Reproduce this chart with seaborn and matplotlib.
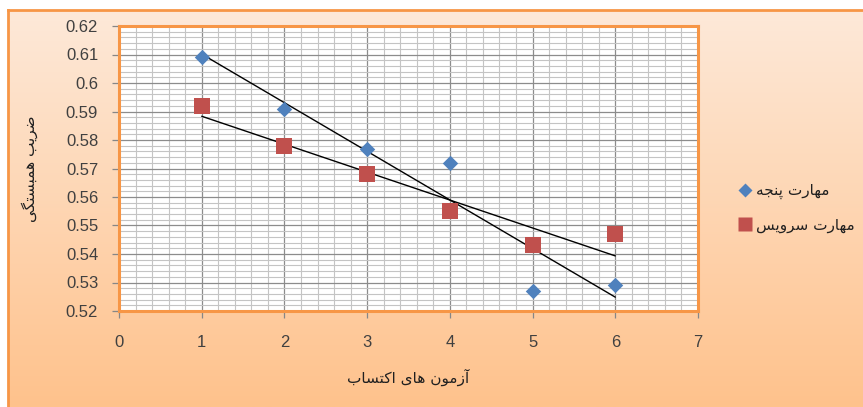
import numpy as np
import pandas as pd
import matplotlib
matplotlib.use("Agg")
import matplotlib.pyplot as plt
import seaborn as sns
from matplotlib.ticker import MultipleLocator, FuncFormatter
from matplotlib.lines import Line2D

# --- data -------------------------------------------------------------
tests = [1, 2, 3, 4, 5, 6]
grip_corr = [0.609, 0.591, 0.577, 0.572, 0.527, 0.529]
serve_corr = [0.592, 0.578, 0.568, 0.555, 0.543, 0.547]
grip_name = "مهارت پنجه"
serve_name = "مهارت سرویس"
x_title = "آزمون های اکتساب"
y_title = "ضریب همبستگی"
x_ticks = [0, 1, 2, 3, 4, 5, 6, 7]
y_ticks = [0.52, 0.53, 0.54, 0.55, 0.56, 0.57, 0.58, 0.59, 0.60, 0.61, 0.62]

# --- minimal Persian shaping (presentation forms + visual order) -------
FORMS = {
    "ا": ("\uFE8D", "\uFE8E", None, None),
    "آ": ("\uFE81", "\uFE82", None, None),
    "ب": ("\uFE8F", "\uFE90", "\uFE91", "\uFE92"),
    "پ": ("\uFB56", "\uFB57", "\uFB58", "\uFB59"),
    "ت": ("\uFE95", "\uFE96", "\uFE97", "\uFE98"),
    "ج": ("\uFE9D", "\uFE9E", "\uFE9F", "\uFEA0"),
    "ر": ("\uFEAD", "\uFEAE", None, None),
    "ز": ("\uFEAF", "\uFEB0", None, None),
    "س": ("\uFEB1", "\uFEB2", "\uFEB3", "\uFEB4"),
    "ض": ("\uFEBD", "\uFEBE", "\uFEBF", "\uFEC0"),
    "ک": ("\uFB8E", "\uFB8F", "\uFB90", "\uFB91"),
    "گ": ("\uFB92", "\uFB93", "\uFB94", "\uFB95"),
    "م": ("\uFEE1", "\uFEE2", "\uFEE3", "\uFEE4"),
    "ن": ("\uFEE5", "\uFEE6", "\uFEE7", "\uFEE8"),
    "ه": ("\uFEE9", "\uFEEA", "\uFEEB", "\uFEEC"),
    "و": ("\uFEED", "\uFEEE", None, None),
    "ی": ("\uFBFC", "\uFBFD", "\uFBFE", "\uFBFF"),
}


def fa(text):
    chars = list(text)
    out = []
    for i, c in enumerate(chars):
        if c not in FORMS:
            out.append(c)
            continue
        prev = chars[i - 1] if i > 0 else None
        nxt = chars[i + 1] if i + 1 < len(chars) else None
        join_prev = prev in FORMS and FORMS[prev][2] is not None
        join_next = FORMS[c][2] is not None and nxt in FORMS
        iso, fin, ini, med = FORMS[c]
        if join_prev and join_next:
            out.append(med)
        elif join_prev:
            out.append(fin)
        elif join_next:
            out.append(ini)
        else:
            out.append(iso)
    return "".join(reversed(out))


df = pd.DataFrame({
    "test": tests * 2,
    "corr": grip_corr + serve_corr,
    "skill": [grip_name] * len(tests) + [serve_name] * len(tests),
})

BLUE = "#4F81BD"
RED = "#C0504D"
ORANGE = "#F79646"
TXT = "#404040"

sns.set_style("white")
plt.rcParams["font.family"] = ["Liberation Sans", "DejaVu Sans"]

W, H = 863, 407
fig = plt.figure(figsize=(W / 100, H / 100), dpi=100)
fig.patch.set_facecolor("white")

# chart area: peach gradient with orange frame
bg = fig.add_axes([8 / W, 0, 1 - 8 / W, 1 - 10 / H], zorder=0)
top_c = np.array([253, 233, 217]) / 255
bot_c = np.array([255, 194, 140]) / 255
t = np.linspace(0, 1, 256)[:, None]
grad = (top_c[None, :] * (1 - t) + bot_c[None, :] * t)[:, None, :]
bg.imshow(grad, aspect="auto", extent=[0, 1, 0, 1], origin="upper")
bg.set_xticks([]); bg.set_yticks([])
for side in ["right", "bottom"]:
    bg.spines[side].set_visible(False)
for side in ["top", "left"]:
    bg.spines[side].set_color(ORANGE)
    bg.spines[side].set_linewidth(2)

ax = fig.add_axes([119 / W, 1 - 311 / H, (698 - 119) / W, (311 - 26) / H], zorder=1)
ax.set_facecolor("white")

# points
g = df[df.skill == grip_name]
s = df[df.skill == serve_name]
sns.scatterplot(data=g, x="test", y="corr", marker="D", s=62, color=BLUE,
                linewidth=0, ax=ax, zorder=4, legend=False)
sns.scatterplot(data=s, x="test", y="corr", marker="s", s=120, color=RED,
                linewidth=0, ax=ax, zorder=4, legend=False)

# linear trend lines
for part in (g, s):
    sns.regplot(data=part, x="test", y="corr", scatter=False, ci=None,
                truncate=True, ax=ax,
                line_kws=dict(color="black", lw=1.0, zorder=3))

ax.set_xlim(0, 7)
ax.set_ylim(0.52, 0.62)
ax.set_xticks(x_ticks)
ax.set_yticks(y_ticks)
ax.yaxis.set_major_formatter(FuncFormatter(lambda v, p: f"{v:.2f}".rstrip("0")))
ax.xaxis.set_minor_locator(MultipleLocator(0.2))
ax.yaxis.set_minor_locator(MultipleLocator(0.002))
ax.grid(which="major", color="#8C8C8C", lw=0.9)
ax.grid(which="minor", color="#C4C4C4", lw=0.8)
ax.set_axisbelow(True)
ax.tick_params(which="major", axis="both", direction="out", length=5,
               width=0.9, color="#868686", labelsize=12, labelcolor=TXT,
               bottom=True, left=True)
ax.tick_params(axis="y", pad=10)
ax.tick_params(axis="x", pad=12)
ax.tick_params(which="minor", length=0)
for side in ax.spines.values():
    side.set_color(ORANGE)
    side.set_linewidth(2.2)

ax.set_xlabel(fa(x_title), family=["DejaVu Sans"], fontsize=11, color="#202020",
              labelpad=14)
ax.set_ylabel(fa(y_title), family=["DejaVu Sans"], fontsize=11, color="#202020",
              labelpad=20)

handles = [
    Line2D([], [], marker="D", ls="", color=BLUE, markersize=7, mec="none"),
    Line2D([], [], marker="s", ls="", color=RED, markersize=10.5, mec="none"),
]
fig.legend(handles, [fa(grip_name), fa(serve_name)], loc="center left",
           bbox_to_anchor=(724 / W, 1 - 208 / H), frameon=False,
           prop={"family": "DejaVu Sans", "size": 11}, labelcolor="#202020",
           handletextpad=0.2, labelspacing=1.2, handlelength=1.0)

fig.savefig("out.png", dpi=100)
